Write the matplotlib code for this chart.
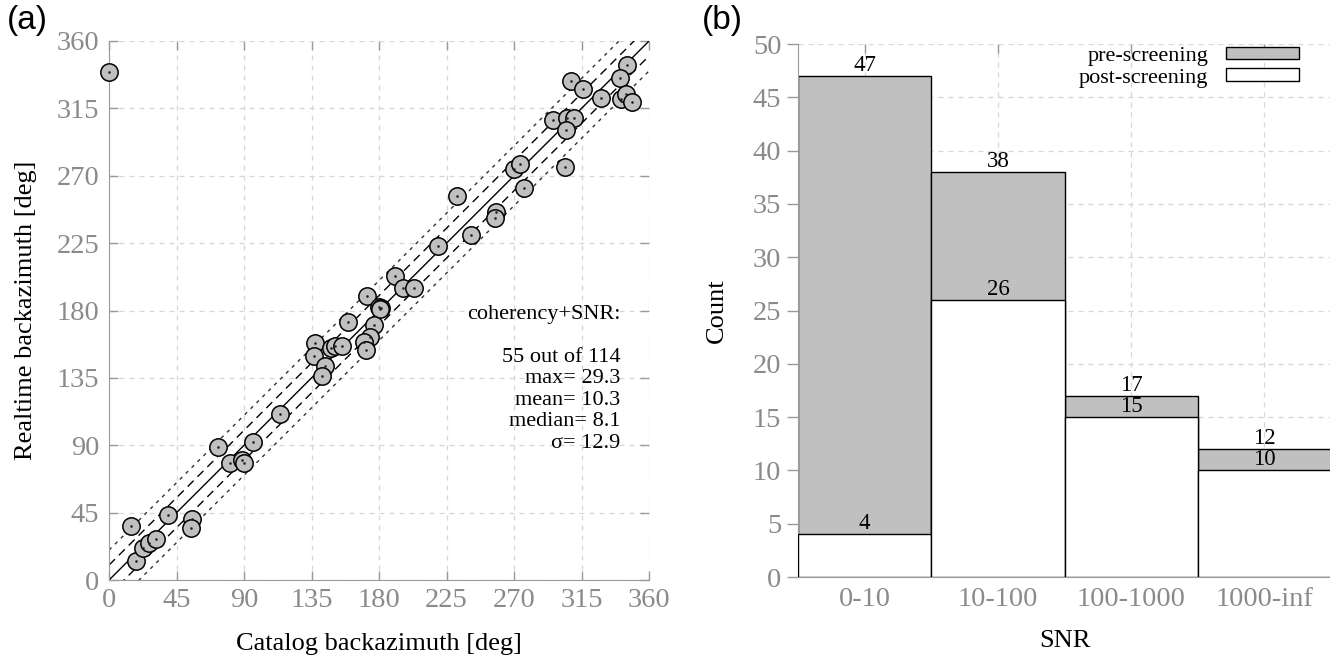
import numpy as np
import matplotlib
matplotlib.use('Agg')
import matplotlib.pyplot as plt

# ── Data ─────────────────────────────────────────────────────
# (a) catalog vs realtime backazimuth, degrees
catalog_baz = [0.2, 14.5, 17.8, 22.4, 26.9, 31.3, 39.1, 55.3, 54.9, 72.9,
               80.7, 88.9, 89.8, 95.8, 114.0, 137.3, 136.7, 144.0, 141.8, 148.0,
               150.7, 155.0, 159.5, 171.8, 190.7, 196.2, 203.3, 180.2, 181.0, 180.8,
               176.9, 174.0, 170.2, 171.3, 231.8, 219.1, 241.3, 258.0, 257.6, 276.9,
               270.0, 274.0, 345.6, 340.7, 307.8, 316.2, 327.8, 341.1, 344.7, 348.4,
               295.8, 305.1, 310.0, 304.7, 304.0]
realtime_baz = [339.5, 36.0, 12.5, 21.4, 24.5, 27.2, 43.6, 40.5, 34.7, 89.0,
                78.0, 80.0, 78.4, 92.0, 110.7, 158.1, 149.6, 143.0, 136.3, 154.8,
                156.3, 156.3, 172.5, 189.7, 203.0, 195.3, 195.3, 182.6, 181.5, 181.0,
                170.3, 162.1, 159.2, 153.6, 256.7, 223.1, 230.5, 246.0, 241.6, 261.6,
                274.3, 278.0, 344.0, 335.5, 333.3, 327.8, 322.2, 321.1, 324.6, 319.5,
                307.3, 308.4, 308.4, 300.6, 275.7]
line_offsets = [0, 10, -10, 20, -20]
stats_lines = ['coherency+SNR:', '', '55 out of 114', 'max= 29.3',
               'mean= 10.3', 'median= 8.1', 'σ= 12.9']

# (b) SNR histogram
snr_bins = ['0-10', '10-100', '100-1000', '1000-inf']
pre_counts = [47, 38, 17, 12]
post_counts = [4, 26, 15, 10]

# ── Style ────────────────────────────────────────────────────
SERIF = 'Liberation Serif'
SANS = 'Liberation Sans'
TICK_GRAY = '#8a8a8a'
SPINE_GRAY = '#9a9a9a'
FILL = '#c0c0c0'
GRID = '#d6d6d6'
TICK_FS = 20.5
LABEL_FS = 19

plt.rcParams['font.family'] = SERIF

fig = plt.figure(figsize=(13.3, 6.58), dpi=100)
ax1 = fig.add_axes([0.082, 0.1185, 0.406, 0.8192])
ax2 = fig.add_axes([0.6, 0.1231, 0.4008, 0.81])

# ── Panel (a) ────────────────────────────────────────────────
line_styles = {0: '-', 10: (0, (6, 4)), -10: (0, (6, 4)),
               20: (0, (2.5, 3.5)), -20: (0, (2.5, 3.5))}
xx = np.array([0, 360])
for off in line_offsets:
    ax1.plot(xx, xx + off, color='k' if abs(off) < 20 else '#333333',
             lw=1.0, linestyle=line_styles[off], zorder=2)

ax1.plot(catalog_baz, realtime_baz, 'o', ms=12.5, mfc=FILL, mec='k',
         mew=1.1, ls='none', zorder=3, clip_on=False)
ax1.plot(catalog_baz, realtime_baz, 's', ms=0.8, color='#222222', ls='none',
         zorder=4, clip_on=False)

ax1.set_xlim(0, 360)
ax1.set_ylim(0, 360)
ax1.set_xticks(range(0, 361, 45))
ax1.set_yticks(range(0, 361, 45))
ax1.grid(True, color=GRID, linestyle=(0, (4, 4)), lw=0.9)
ax1.set_axisbelow(True)
ax1.tick_params(direction='in', length=6.5, width=1, color=SPINE_GRAY,
                top=True, right=True, labelsize=TICK_FS, labelcolor=TICK_GRAY)
ax1.tick_params(axis='x', pad=6)
ax1.tick_params(axis='y', pad=7)
for side in ['top', 'right']:
    ax1.spines[side].set_visible(False)
for side in ['left', 'bottom']:
    ax1.spines[side].set_color(SPINE_GRAY)
ax1.set_xlabel('Catalog backazimuth [deg]', fontsize=LABEL_FS, labelpad=14)
ax1.set_ylabel('Realtime backazimuth [deg]', fontsize=LABEL_FS, labelpad=14)

ax1.text(341, 184, '\n'.join(stats_lines), ha='right', va='top',
         fontsize=16, linespacing=1.18, zorder=5)

# ── Panel (b) ────────────────────────────────────────────────
xpos = np.arange(1, len(snr_bins) + 1)
pre_bars = ax2.bar(xpos, pre_counts, width=1, color=FILL, edgecolor='k',
                   lw=1, label='pre-screening', zorder=2)
post_bars = ax2.bar(xpos, post_counts, width=1, color='white', edgecolor='k',
                    lw=1, label='post-screening', zorder=3)
ax2.bar_label(pre_bars, padding=0, fontsize=16.5, zorder=4)
ax2.bar_label(post_bars, padding=0, fontsize=16.5, zorder=4)

ax2.set_xlim(0.5, 4.5)
ax2.set_ylim(0, 50)
ax2.set_xticks(xpos)
ax2.set_xticklabels(snr_bins)
ax2.set_yticks(range(0, 51, 5))
ax2.grid(True, color=GRID, linestyle=(0, (4, 4)), lw=0.9)
ax2.set_axisbelow(True)
ax2.tick_params(axis='y', direction='out', length=8, width=1,
                color=SPINE_GRAY, labelsize=TICK_FS, labelcolor=TICK_GRAY, pad=4)
ax2.tick_params(axis='x', direction='in', length=6.5, width=1,
                color=SPINE_GRAY, top=True, bottom=False, labelsize=TICK_FS,
                labelcolor=TICK_GRAY, pad=7)
for side in ['top', 'right']:
    ax2.spines[side].set_visible(False)
for side in ['left', 'bottom']:
    ax2.spines[side].set_color(SPINE_GRAY)
ax2.set_xlabel('SNR', fontsize=LABEL_FS, labelpad=13)
ax2.set_ylabel('Count', fontsize=LABEL_FS, labelpad=18)

ax2.legend(loc='upper right', bbox_to_anchor=(0.957, 1.012), frameon=False,
           markerfirst=False, fontsize=16, handlelength=3.3,
           handleheight=0.5, labelspacing=0.12, handletextpad=0.8,
           borderaxespad=0.0)

# ── Panel tags ───────────────────────────────────────────────
fig.text(0.005, 0.992, '(a)', family=SANS, fontsize=24, va='top', ha='left')
fig.text(0.528, 0.992, '(b)', family=SANS, fontsize=24, va='top', ha='left')

fig.savefig('out.png', dpi=100, facecolor='white')
